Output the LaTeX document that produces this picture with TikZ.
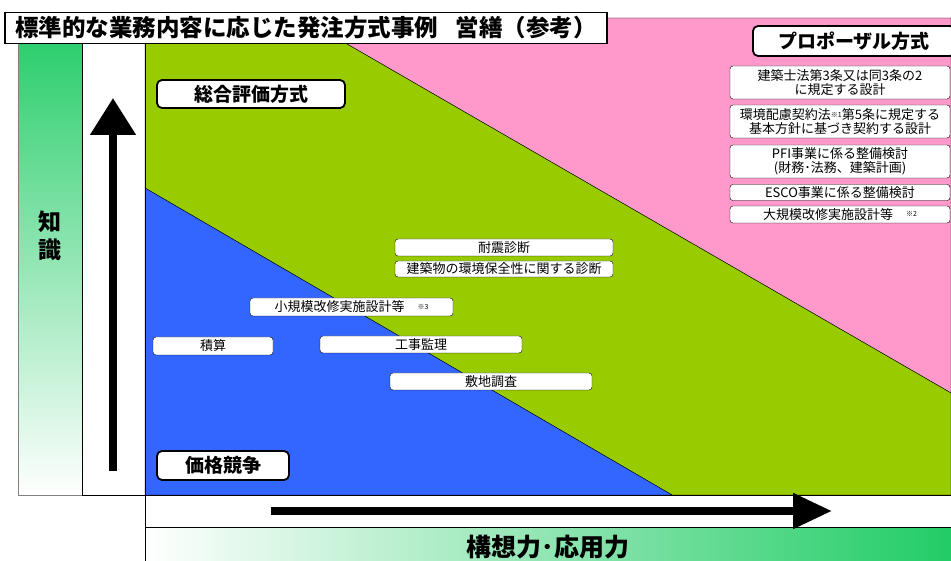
\documentclass[tikz,border=0pt]{standalone}
\usepackage{fontspec}
\setmainfont{Noto Sans CJK JP}
\usetikzlibrary{arrows.meta}
\definecolor{blueregion}{HTML}{3366FF}
\definecolor{greenregion}{HTML}{99CC00}
\definecolor{pinkregion}{HTML}{FF99CC}
\definecolor{scalegreen}{HTML}{22CC66}
\tikzset{
itembox/.style={draw = black, fill = white, rounded corners = 3pt, inner sep = 0pt, align = center, font = \fontsize{13}{13.5}\selectfont},
methodbox/.style={draw = black, line width = 1.8pt, fill = white, rounded corners = 5pt, inner sep = 0pt, font = \bfseries\fontsize{19}{20}\selectfont},
axislabel/.style={align = center, font = \bfseries\fontsize{23}{28}\selectfont},
axisarrow/.style={line width = 8pt, -{Triangle[length = 37pt, width = 44pt]}}
}
\newcommand\notemark[1]{\raisebox{2.5pt}{\fontsize{7}{7}\selectfont #1}}
\begin{document}
\begin{tikzpicture}[x = 1pt, y = -1pt]
\useasboundingbox (0,0) rectangle (951,561);
\fill[top color = scalegreen, bottom color = white] (18,18) rectangle (82,495);
\fill[left color = white, right color = scalegreen] (145,527) rectangle (951,561);
\draw[color = gray] (18,18) -- (18,495) -- (82,495);
\draw (82,18) -- (82,495);
\draw (82,495) -- (951,495);
\draw (145,18) -- (145,561);
\draw (145,527) -- (951,527);
\draw [fill = pinkregion, draw = black] (302,18) -- (951,18) -- (951,393) -- cycle;
\draw [fill = greenregion, draw = black] (145,18) -- (302,18) -- (951,393) -- (951,495) -- (672,495) -- (145,188) -- cycle;
\draw [fill = blueregion, draw = black] (145,188) -- (672,495) -- (145,495) -- cycle;
\draw (145,18) -- (145,495) -- (951,495);
\coordinate (upstart) at (113,471);
\coordinate (upend) at (113,98);
\draw [axisarrow] (upstart) -- (upend);
\coordinate (rightstart) at (271,511);
\coordinate (rightend) at (832,511);
\draw [axisarrow, -{Triangle[length = 39pt, width = 34pt]}] (rightstart) -- (rightend);
\node[axislabel] (chishiki) at (50,236) {知\\識};
\node[axislabel, font = \bfseries\fontsize{25}{28}\selectfont] (koso) at (548,547) {構想力･応用力};
\node[draw = black, line width = 1.2pt, fill = white, inner sep = 0pt, minimum width = 602pt, minimum height = 31pt, font = \bfseries\fontsize{23.5}{24}\selectfont] (title) at (306,28) {標準的な業務内容に応じた発注方式事例\enspace\ 営繕（参考）};
\node[methodbox, minimum width = 202pt, minimum height = 30pt] (proposal) at (854,41) {プロポーザル方式};
\node[methodbox, minimum width = 188pt, minimum height = 28pt] (sogo) at (251,94) {総合評価方式};
\node[methodbox, minimum width = 132pt, minimum height = 29pt] (kakaku) at (223,465.5) {価格競争};
\node[itembox, minimum width = 220pt, minimum height = 33pt] (kenchikushi) at (840,82.5) {建築士法第3条又は同3条の2\\に規定する設計};
\node[itembox, minimum width = 220pt, minimum height = 33pt] (hairyo) at (840,121.5) {環境配慮契約法\notemark{※1}第5条に規定する\\基本方針に基づき契約する設計};
\node[itembox, minimum width = 220pt, minimum height = 33pt] (pfi) at (840,161.5) {PFI事業に係る整備検討\\(財務･法務、建築計画)};
\node[itembox, minimum width = 220pt, minimum height = 16pt] (esco) at (840,192.5) {ESCO事業に係る整備検討};
\node[itembox, minimum width = 220pt, minimum height = 17pt] (daikibo) at (840,214.5) {大規模改修実施設計等\quad\notemark{※2}};
\node[itembox, minimum width = 218pt, minimum height = 17pt] (taishin) at (504,247.5) {耐震診断};
\node[itembox, minimum width = 218pt, minimum height = 16pt] (kankyo) at (504,269) {建築物の環境保全性に関する診断};
\node[itembox, minimum width = 203pt, minimum height = 18pt] (shokibo) at (351.5,307) {小規模改修実施設計等\quad\notemark{※3}};
\node[itembox, minimum width = 120pt, minimum height = 18pt] (sekisan) at (213,346) {積算};
\node[itembox, minimum width = 202pt, minimum height = 17pt] (kanri) at (421,344.5) {工事監理};
\node[itembox, minimum width = 202pt, minimum height = 17pt] (shikichi) at (491,381.5) {敷地調査};
\end{tikzpicture}
\end{document}
